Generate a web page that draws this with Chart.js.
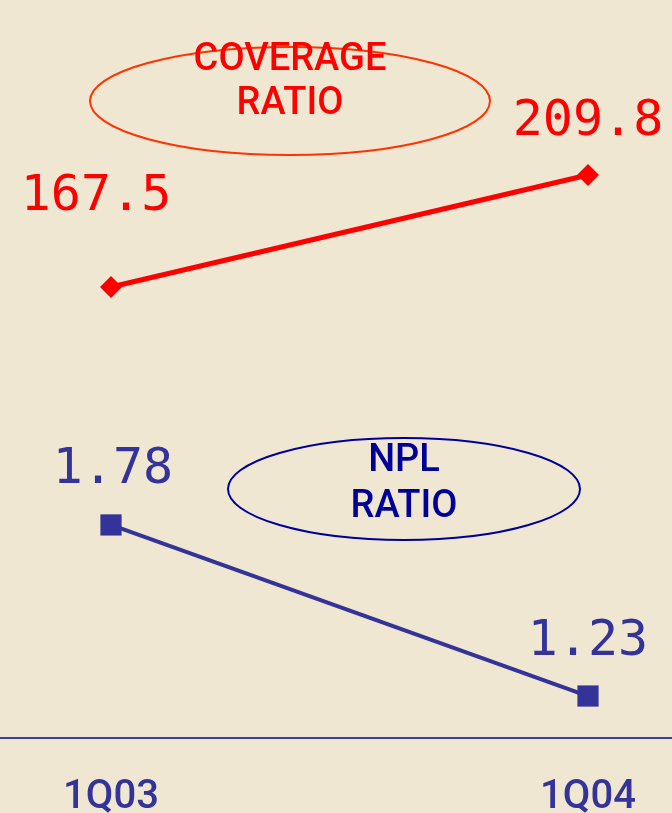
<!DOCTYPE html>
<html>
<head>
<meta charset="utf-8">
<script src="https://cdn.jsdelivr.net/npm/chart.js@4/dist/chart.umd.min.js"></script>
<style>
  html, body { margin: 0; padding: 0; background: #F0E7D2; }
  #wrap { width: 672px; height: 813px; }
</style>
</head>
<body>
<div id="wrap"><canvas id="ratio-chart"></canvas></div>
<script>
const quarters = ['1Q03', '1Q04'];
const coverageRatio = [167.5, 209.8];
const nplRatio = [1.78, 1.23];
const coverageText = ['167.5', '209.8'];
const nplText = ['1.78', '1.23'];

const toPoints = vals => vals.map((v, i) => ({ x: i, y: v }));

// value labels above each point (offsets are just for placement)
const valueLabels = {
    id: 'valueLabels',
    afterDatasetsDraw(chart) {
        const ctx = chart.ctx;
        const texts = [coverageText, nplText];
        const offsets = [[[-15, -90], [0, -53]], [[2, -55], [0, -54]]];
        ctx.save();
        ctx.font = '50px "DejaVu Sans Mono"';
        ctx.textAlign = 'center';
        ctx.textBaseline = 'middle';
        chart.data.datasets.forEach((ds, d) => {
            chart.getDatasetMeta(d).data.forEach((pt, i) => {
                ctx.fillStyle = ds.borderColor;
                ctx.fillText(texts[d][i], pt.x + offsets[d][i][0], pt.y + offsets[d][i][1]);
            });
        });
        ctx.restore();
    }
};

// the two ellipse captions
const captions = {
    id: 'captions',
    afterDraw(chart) {
        const ctx = chart.ctx;
        const items = [
            { cx: 290, cy: 101, rx: 200, ry: 54, stroke: '#FF3300', color: '#FF0000', lines: ['COVERAGE', 'RATIO'], y: [60, 104] },
            { cx: 404, cy: 489, rx: 176, ry: 51, stroke: '#000099', color: '#000099', lines: ['NPL', 'RATIO'], y: [461, 507] }
        ];
        ctx.save();
        items.forEach(it => {
            ctx.beginPath();
            ctx.ellipse(it.cx, it.cy, it.rx, it.ry, 0, 0, Math.PI * 2);
            ctx.lineWidth = 2;
            ctx.strokeStyle = it.stroke;
            ctx.stroke();
            ctx.fillStyle = it.color;
            ctx.font = '500 38px Roboto';
            ctx.textAlign = 'center';
            ctx.textBaseline = 'middle';
            it.lines.forEach((t, i) => ctx.fillText(t, it.cx, it.y[i]));
        });
        ctx.restore();
    }
};

new Chart(document.getElementById('ratio-chart'), {
    type: 'line',
    data: {
        datasets: [
            {
                label: 'Coverage ratio',
                data: toPoints(coverageRatio),
                yAxisID: 'yCov',
                borderColor: '#FF0000',
                backgroundColor: '#FF0000',
                borderWidth: 5,
                pointStyle: 'rectRot',
                pointRadius: 11,
                pointBorderWidth: 0,
                fill: false
            },
            {
                label: 'NPL ratio',
                data: toPoints(nplRatio),
                yAxisID: 'yNpl',
                borderColor: '#333399',
                backgroundColor: '#333399',
                borderWidth: 4,
                pointStyle: 'rect',
                pointRadius: 15,
                pointBorderWidth: 0,
                fill: false
            }
        ]
    },
    options: {
        responsive: true,
        maintainAspectRatio: false,
        animation: false,
        layout: { padding: 0, autoPadding: false },
        plugins: {
            legend: { display: false },
            tooltip: { enabled: false }
        },
        scales: {
            x: {
                type: 'linear',
                min: -0.2327,
                max: 1.1761,
                afterBuildTicks: axis => { axis.ticks = quarters.map((q, i) => ({ value: i })); },
                afterFit: axis => { axis.height = 75; },
                grid: { display: false },
                border: { display: true, color: '#4040A0', width: 2 },
                ticks: {
                    padding: 28,
                    color: '#333399',
                    font: { family: 'Roboto', size: 40, weight: '500' },
                    callback: v => quarters[v]
                }
            },
            yCov: {
                display: false,
                min: -2.8,
                max: 275.9
            },
            yNpl: {
                display: false,
                min: 1.095,
                max: 3.468
            }
        }
    },
    plugins: [valueLabels, captions]
});
</script>
</body>
</html>
